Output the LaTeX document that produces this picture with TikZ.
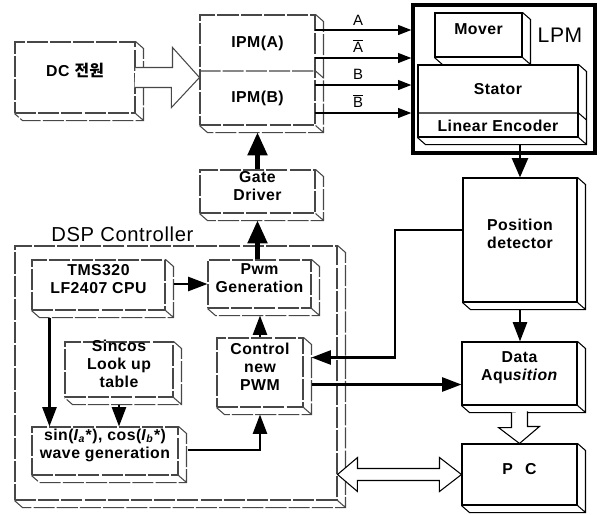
\documentclass[tikz,border=0pt]{standalone}
\usepackage{fontspec}
\setmainfont{Liberation Sans}[LetterSpace=3]
\newfontfamily\kr{Noto Sans CJK KR}
\usetikzlibrary{arrows.meta,fit}

\tikzset{
  dline/.style={draw=black, line width=0.6pt},
  fd/.style={draw=black!72, dash pattern=on 12pt off 1.2pt},
  fbox/.style={dline, inner sep=0pt, align=center,
    font=\fontsize{9}{10.3}\selectfont\bfseries},
  txt/.style={inner sep=0pt, align=center, font=\fontsize{9}{10.3}\selectfont\bfseries},
  sig/.style={inner sep=0pt, font=\fontsize{8.5}{10}\selectfont},
  arr/.style={draw=black, line width=1.3pt, -{Triangle[length=11pt,width=8pt]}},
  thinarr/.style={draw=black, line width=1pt, -{Triangle[length=7.5pt,width=5.5pt]}},
  bigarr/.style={draw=black, line width=2.4pt, -{Triangle[length=13pt,width=11pt]}},
  hollow/.style={draw=black, line width=0.6pt, fill=white},
}

% 3D box: [style]{name}{x1}{y1}{x2}{y2}{text}
\newcommand\tdbox[7][]{%
  \coordinate (#2-nw) at (#3,#4);
  \coordinate (#2-se) at (#5,#6);
  \node[fbox,#1,fit=(#2-nw)(#2-se)] (#2) {#7};
  \draw[dline,#1] (#2.north east) -- ++(8,7)
    -- ([shift={(8,7)}]#2.south east) -- ([shift={(8,7)}]#2.south west)
    -- (#2.south west)
    (#2.south east) -- ([shift={(8,7)}]#2.south east);
  \coordinate (#2-bot) at ([shift={(0,7)}]#2.south);
}

\begin{document}
\begin{tikzpicture}[x=0.02cm,y=-0.02cm]
\useasboundingbox (0,0) rectangle (600,515);

% DSP controller frame
\tdbox[fd]{dsp}{15}{246}{337}{500}{}
\node[anchor=west, inner sep=0pt, font=\fontsize{11.5}{13}\selectfont] (dsplab) at (51,234) {DSP Controller};

% DC source and IPM
\tdbox[fd]{dc}{15}{42}{135}{113}{DC\hspace{3pt}{\kr 전원}}
\tdbox[fd]{ipm}{200}{15}{315}{125}{}
\node[txt] (ipmA) at (257.5,43) {IPM(A)};
\node[txt] (ipmB) at (257.5,98) {IPM(B)};
\draw[dline,fd] (ipm.west |- 0,71) -- (ipm.east |- 0,71) -- ++(8,7);
\draw[hollow,draw=black!72] ([shift={(0,-10)}]dc.east) -- ++(37,0) -- ++(0,-20)
  -- (ipm.west |- dc.east) -- ++(-28,30) -- ++(0,-20) -- ++(-37,0);

\tdbox[fd]{gate}{200}{170}{315}{213}{Gate\\Driver}

% LPM
\coordinate (lpm-nw) at (413,5);
\coordinate (lpm-se) at (595,153);
\node[draw=black, line width=1.8pt, inner sep=0pt, fit=(lpm-nw)(lpm-se)] (lpm) {};
\node[inner sep=0pt, font=\fontsize{12}{13}\selectfont] (lpmlab) at (560,35) {LPM};
\tdbox{mover}{435}{13}{522}{57}{Mover}
\tdbox{stator}{418}{65}{578}{137}{}
\node[txt] (statorlab) at (498,89) {Stator};
\node[txt] (enc) at (498,125.5) {Linear Encoder};
\draw[dline] (stator.west |- 0,113) -- (stator.east |- 0,113) -- ++(8,7);

% phase lines
\coordinate (pA) at (315,30);
\coordinate (pAb) at (315,58);
\coordinate (pB) at (315,85);
\coordinate (pBb) at (315,113);
\draw[thinarr] (pA) -- (pA -| lpm.west);
\draw[thinarr] (pAb) -- (pAb -| lpm.west);
\draw[thinarr] (pB) -- (pB -| lpm.west);
\draw[thinarr] (pBb) -- (pBb -| lpm.west);
\node[sig] (lA) at (358,20) {A};
\node[sig] (lAb) at (358,46) {$\overline{\mbox{A}}$};
\node[sig] (lB) at (358,74) {B};
\node[sig] (lBb) at (358,101) {$\overline{\mbox{B}}$};

% right column
\tdbox{pos}{463}{178}{577}{302}{Position\\detector}
\tdbox{data}{462}{342}{577}{405}{Data\\Aqu\textit{sition}}
\tdbox{pc}{462}{444}{577}{505}{P\hspace{7pt}C}

% DSP inner blocks
\tdbox[fd]{tms}{32}{260}{165}{310}{TMS320\\LF2407 CPU}
\tdbox[fd]{pwm}{208}{260}{311}{308}{Pwm\\Generation}
\tdbox[fd]{ctrl}{217}{338}{303}{407}{Control\\new\\PWM}
\tdbox[fd]{sincos}{65}{342}{173}{397}{Sincos\\Look up\\table}
\tdbox[fd]{sinw}{32}{427}{178}{475}{sin(\textit{I}\textsubscript{\textit{a}}*), cos(\textit{I}\textsubscript{\textit{b}}*)\\wave generation}

% thick arrows
\draw[bigarr] (gate.north) -- (ipm-bot);
\draw[bigarr] (pwm.north -| gate.south) -- (gate-bot);
\draw[arr, line width=1.6pt, -{Triangle[length=11pt,width=9pt]}] (pos.north |- stator-bot) -- (pos.north);
\draw[arr, line width=1.4pt] (pos-bot) -- (pos-bot |- data.north);

% DSP arrows
\draw[arr] ([shift={(8,-1)}]tms.east) -- ([shift={(0,-1)}]tms.east -| pwm.west);
\draw[arr] ([shift={(18,7)}]tms.south west) -- ([shift={(18,0)}]sinw.north west);
\draw[arr] (sincos-bot) -- (sincos-bot |- sinw.north);
\draw[arr] ([shift={(9,-1)}]sinw.east) -| (ctrl-bot);
\draw[arr] (ctrl.north) -- (ctrl.north |- pwm-bot);

% feedback and output
\coordinate (bend) at (395,300);
\draw[arr] ([shift={(0,-10)}]pos.west) -| (bend) |- ([shift={(8,-15)}]ctrl.east);
\coordinate (cout) at ([shift={(8,12)}]ctrl.east);
\draw[arr] (cout) -- (cout -| data.west);

% hollow arrows
\draw[hollow] ([shift={(-8,7)}]data.south) -- ++(0,15) -- ++(-13,0)
  -- (data.south |- pc.north) -- ++(20,-17) -- ++(-12,0) -- ++(0,-15);
\draw[hollow] (dsp.east |- pc.west) -- ++(20,-17) -- ++(0,11) -- ++(82,0)
  -- ++(0,-11) -- (pc.west) -- ++(-22,17) -- ++(0,-11) -- ++(-82,0)
  -- ++(0,11) -- cycle;
\end{tikzpicture}
\end{document}
